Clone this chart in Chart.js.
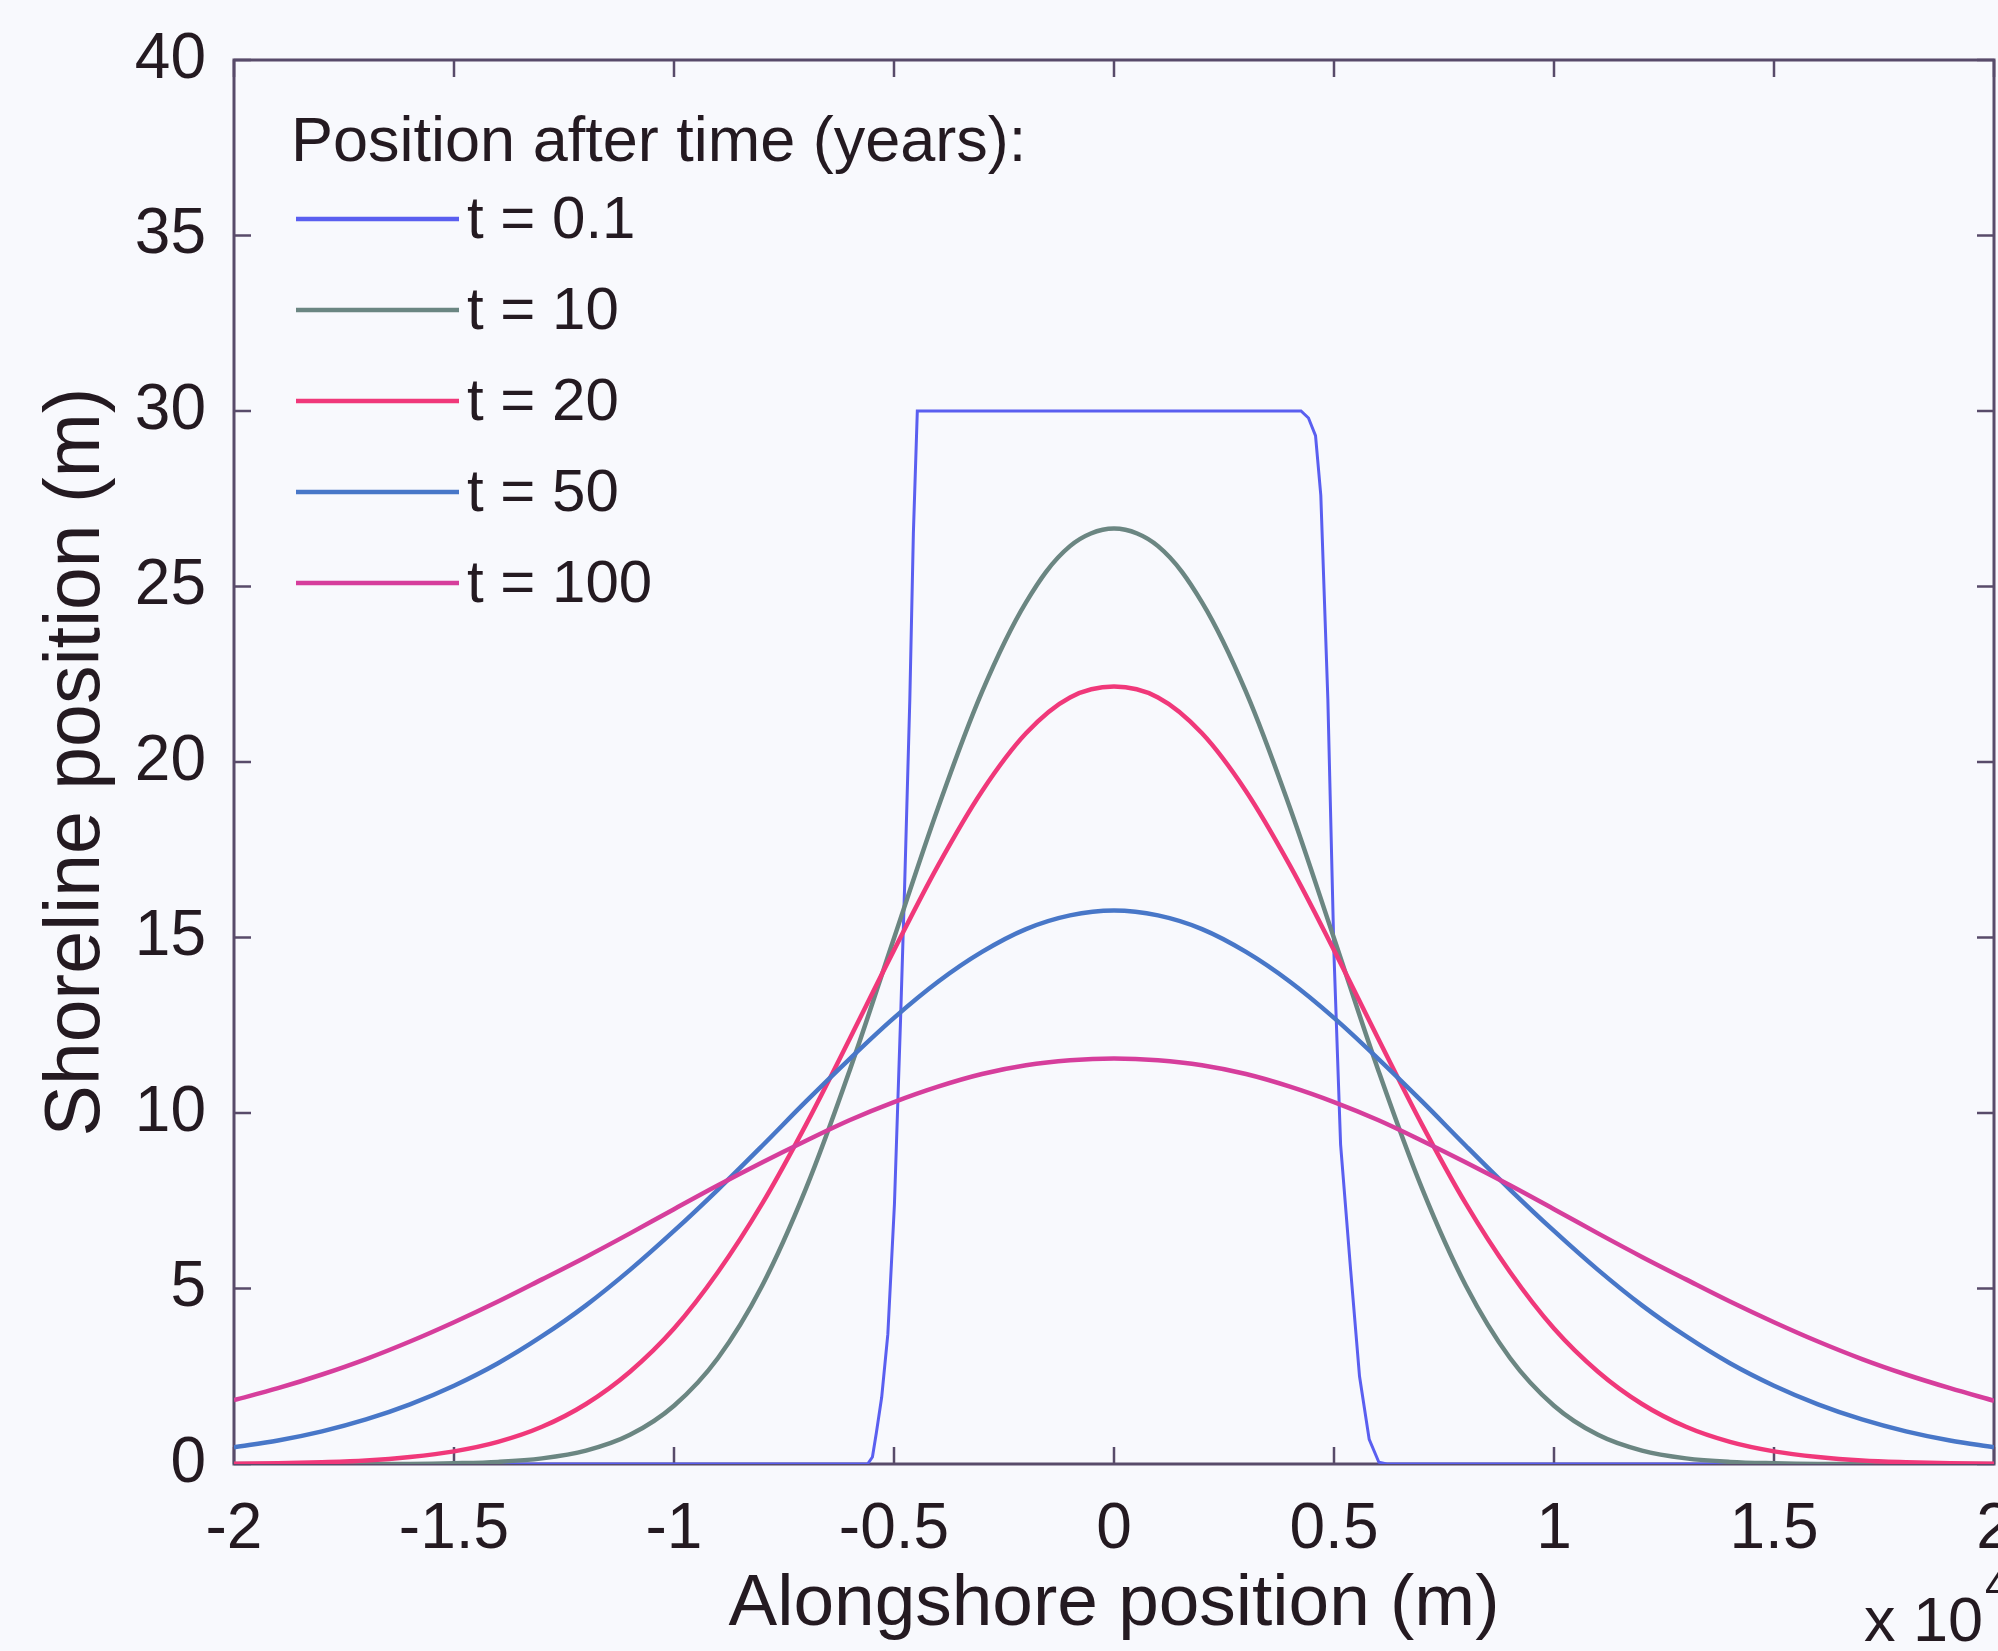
<!DOCTYPE html>
<html><head><meta charset="utf-8">
<script src="https://cdn.jsdelivr.net/npm/chart.js@4.4.1/dist/chart.umd.min.js"></script>
<style>html,body{margin:0;padding:0;background:#f8f9fd;overflow:hidden}#wrap{width:1998px;height:1651px;position:relative}canvas{display:block}</style>
</head><body><div id="wrap"><canvas id="c" width="1998" height="1651"></canvas></div>
<script>
// ---- data ----
const xPositions = [-2.0,-1.9,-1.8,-1.7,-1.6,-1.5,-1.4,-1.3,-1.2,-1.1,-1.0,-0.9,-0.8,-0.7,-0.6,-0.5,-0.4,-0.3,-0.2,-0.1,0.0,
  0.1,0.2,0.3,0.4,0.5,0.6,0.7,0.8,0.9,1.0,1.1,1.2,1.3,1.4,1.5,1.6,1.7,1.8,1.9,2.0];
const t10 = [0,0,0,0,0,0.02,0.06,0.16,0.38,0.83,1.66,3.02,5.07,7.85,11.24,14.98,18.69,22.0,24.55,26.15,26.65,
  26.15,24.55,22.0,18.69,14.98,11.24,7.85,5.07,3.02,1.66,0.83,0.38,0.16,0.06,0.02,0,0,0,0,0];
const t20 = [0.01,0.02,0.05,0.10,0.20,0.36,0.63,1.06,1.71,2.63,3.86,5.47,7.41,9.67,12.13,14.64,17.05,19.17,20.82,21.84,22.15,
  21.84,20.82,19.17,17.05,14.64,12.13,9.67,7.41,5.47,3.86,2.63,1.71,1.06,0.63,0.36,0.20,0.10,0.05,0.02,0.01];
const t50 = [0.48,0.67,0.93,1.27,1.70,2.23,2.87,3.64,4.52,5.53,6.64,7.82,9.06,10.33,11.55,12.71,13.74,14.59,15.24,15.63,15.77,
  15.63,15.24,14.59,13.74,12.71,11.55,10.33,9.06,7.82,6.64,5.53,4.52,3.64,2.87,2.23,1.70,1.27,0.93,0.67,0.48];
const t100 = [1.82,2.16,2.55,2.99,3.49,4.04,4.63,5.26,5.90,6.57,7.26,7.94,8.59,9.21,9.80,10.31,10.75,11.11,11.36,11.50,11.55,
  11.50,11.36,11.11,10.75,10.31,9.80,9.21,8.59,7.94,7.26,6.57,5.90,5.26,4.63,4.04,3.49,2.99,2.55,2.16,1.80];
const boxX = [-2.0,-0.56,-0.549,-0.540,-0.528,-0.514,-0.499,-0.485,-0.476,-0.464,-0.456,-0.447,
  0.425,0.442,0.458,0.470,0.486,0.500,0.515,0.538,0.558,0.580,0.602,0.62,2.0];
const boxY = [0,0,0.2,0.9,1.9,3.7,7.4,12.7,16.4,21.8,26.5,30,
  30,29.8,29.3,27.6,21.8,14.5,9.1,5.5,2.5,0.7,0.05,0,0];

const seriesLabels = ['t = 0.1','t = 10','t = 20','t = 50','t = 100'];
const seriesColors = ['#5a5ff0','#6b8682','#f0387a','#4877c8','#d63e9c'];
const seriesWidths = [3,4.5,4.5,4.5,4.5];
const xTickValues = [-2,-1.5,-1,-0.5,0,0.5,1,1.5,2];
const yTickValues = [0,5,10,15,20,25,30,35,40];
const legendTitle = 'Position after time (years):';
const xTitle = 'Alongshore position (m)';
const yTitle = 'Shoreline position (m)';
const xMultiplier = 'x 10';
const xExponent = '4';

// ---- build ----
const FONT = '"Liberation Sans", Arial, Helvetica, sans-serif';
const TEXT = '#241a21';
const AXIS = '#584b6a';
const pts = (xs, ys) => xs.map((x, i) => ({x: x, y: ys[i]}));
const seriesData = [pts(boxX, boxY), pts(xPositions, t10), pts(xPositions, t20), pts(xPositions, t50), pts(xPositions, t100)];

const datasets = seriesData.map((d, i) => ({
  label: seriesLabels[i],
  data: d,
  borderColor: seriesColors[i],
  borderWidth: seriesWidths[i],
  pointRadius: 0,
  fill: false,
  order: 4 - i,
  tension: i === 0 ? 0 : 0.35,
  cubicInterpolationMode: 'default'
}));

const bgPlugin = {
  id: 'bg',
  beforeDraw(chart) {
    const c = chart.ctx;
    c.save(); c.fillStyle = '#f8f9fd'; c.fillRect(0, 0, chart.width, chart.height); c.restore();
  }
};

const framePlugin = {
  id: 'frame',
  beforeDatasetsDraw(chart) {
    const c = chart.ctx, a = chart.chartArea, xs = chart.scales.x, ys = chart.scales.y;
    const tl = 17;
    c.save();
    c.strokeStyle = AXIS; c.lineWidth = 3;
    c.strokeRect(a.left, a.top, a.right - a.left, a.bottom - a.top);
    c.lineWidth = 2.5;
    c.beginPath();
    xTickValues.forEach(v => {
      const px = xs.getPixelForValue(v);
      c.moveTo(px, a.bottom); c.lineTo(px, a.bottom - tl);
      c.moveTo(px, a.top); c.lineTo(px, a.top + tl);
    });
    yTickValues.forEach(v => {
      const py = ys.getPixelForValue(v);
      c.moveTo(a.left, py); c.lineTo(a.left + tl, py);
      c.moveTo(a.right, py); c.lineTo(a.right - tl, py);
    });
    c.stroke();
    c.restore();
  }
};

const legendPlugin = {
  id: 'matlabLegend',
  afterDraw(chart) {
    const c = chart.ctx;
    c.save();
    c.fillStyle = TEXT;
    c.textBaseline = 'middle';
    c.textAlign = 'left';
    c.font = '63px ' + FONT;
    c.fillText(legendTitle, 291, 144);
    c.font = '60px ' + FONT;
    const x0 = 296, x1 = 459, tx = 467, y0 = 219, dy = 91;
    chart.data.datasets.forEach((ds, i) => {
      const y = y0 + i * dy;
      c.strokeStyle = ds.borderColor;
      c.lineWidth = 4.5;
      c.beginPath(); c.moveTo(x0, y); c.lineTo(x1, y); c.stroke();
      c.fillStyle = TEXT;
      c.fillText(ds.label, tx, y + 2);
    });
    // x multiplier
    c.font = '63px ' + FONT;
    c.textBaseline = 'alphabetic';
    c.fillText(xMultiplier, 1864, 1641);
    const w = c.measureText(xMultiplier).width;
    c.font = '44px ' + FONT;
    c.fillText(xExponent, 1864 + w + 2, 1600);
    c.restore();
  }
};

new Chart(document.getElementById('c'), {
  type: 'line',
  data: { datasets: datasets },
  options: {
    responsive: false,
    animation: false,
    devicePixelRatio: 1,
    layout: { padding: { top: 60, right: 4, left: 0, bottom: 0 } },
    plugins: { legend: { display: false }, tooltip: { enabled: false } },
    scales: {
      x: {
        type: 'linear', min: -2, max: 2,
        afterBuildTicks(s) { s.ticks = xTickValues.map(v => ({value: v})); },
        afterFit(s) { s.height = 1651 - 1464; s.paddingLeft = 0; s.paddingRight = 0; },
        grid: { display: false, drawTicks: false },
        border: { display: false },
        ticks: { autoSkip: false, maxRotation: 0, padding: 28, color: TEXT,
          font: { family: FONT, size: 64 }, callback: v => String(v) },
        title: { display: true, text: xTitle, color: TEXT, font: { family: FONT, size: 73 },
          padding: { top: 0, bottom: 2 } }
      },
      y: {
        type: 'linear', min: 0, max: 40,
        afterBuildTicks(s) { s.ticks = yTickValues.map(v => ({value: v})); },
        afterFit(s) { s.width = 234; s.paddingTop = 0; s.paddingBottom = 0; },
        grid: { display: false, drawTicks: false },
        border: { display: false },
        ticks: { autoSkip: false, padding: 28, color: TEXT,
          font: { family: FONT, size: 64 }, callback: v => String(v) },
        title: { display: true, text: yTitle, color: TEXT, font: { family: FONT, size: 77 },
          padding: { top: 32, bottom: 0 } }
      }
    }
  },
  plugins: [bgPlugin, framePlugin, legendPlugin]
});
</script>
</body></html>
